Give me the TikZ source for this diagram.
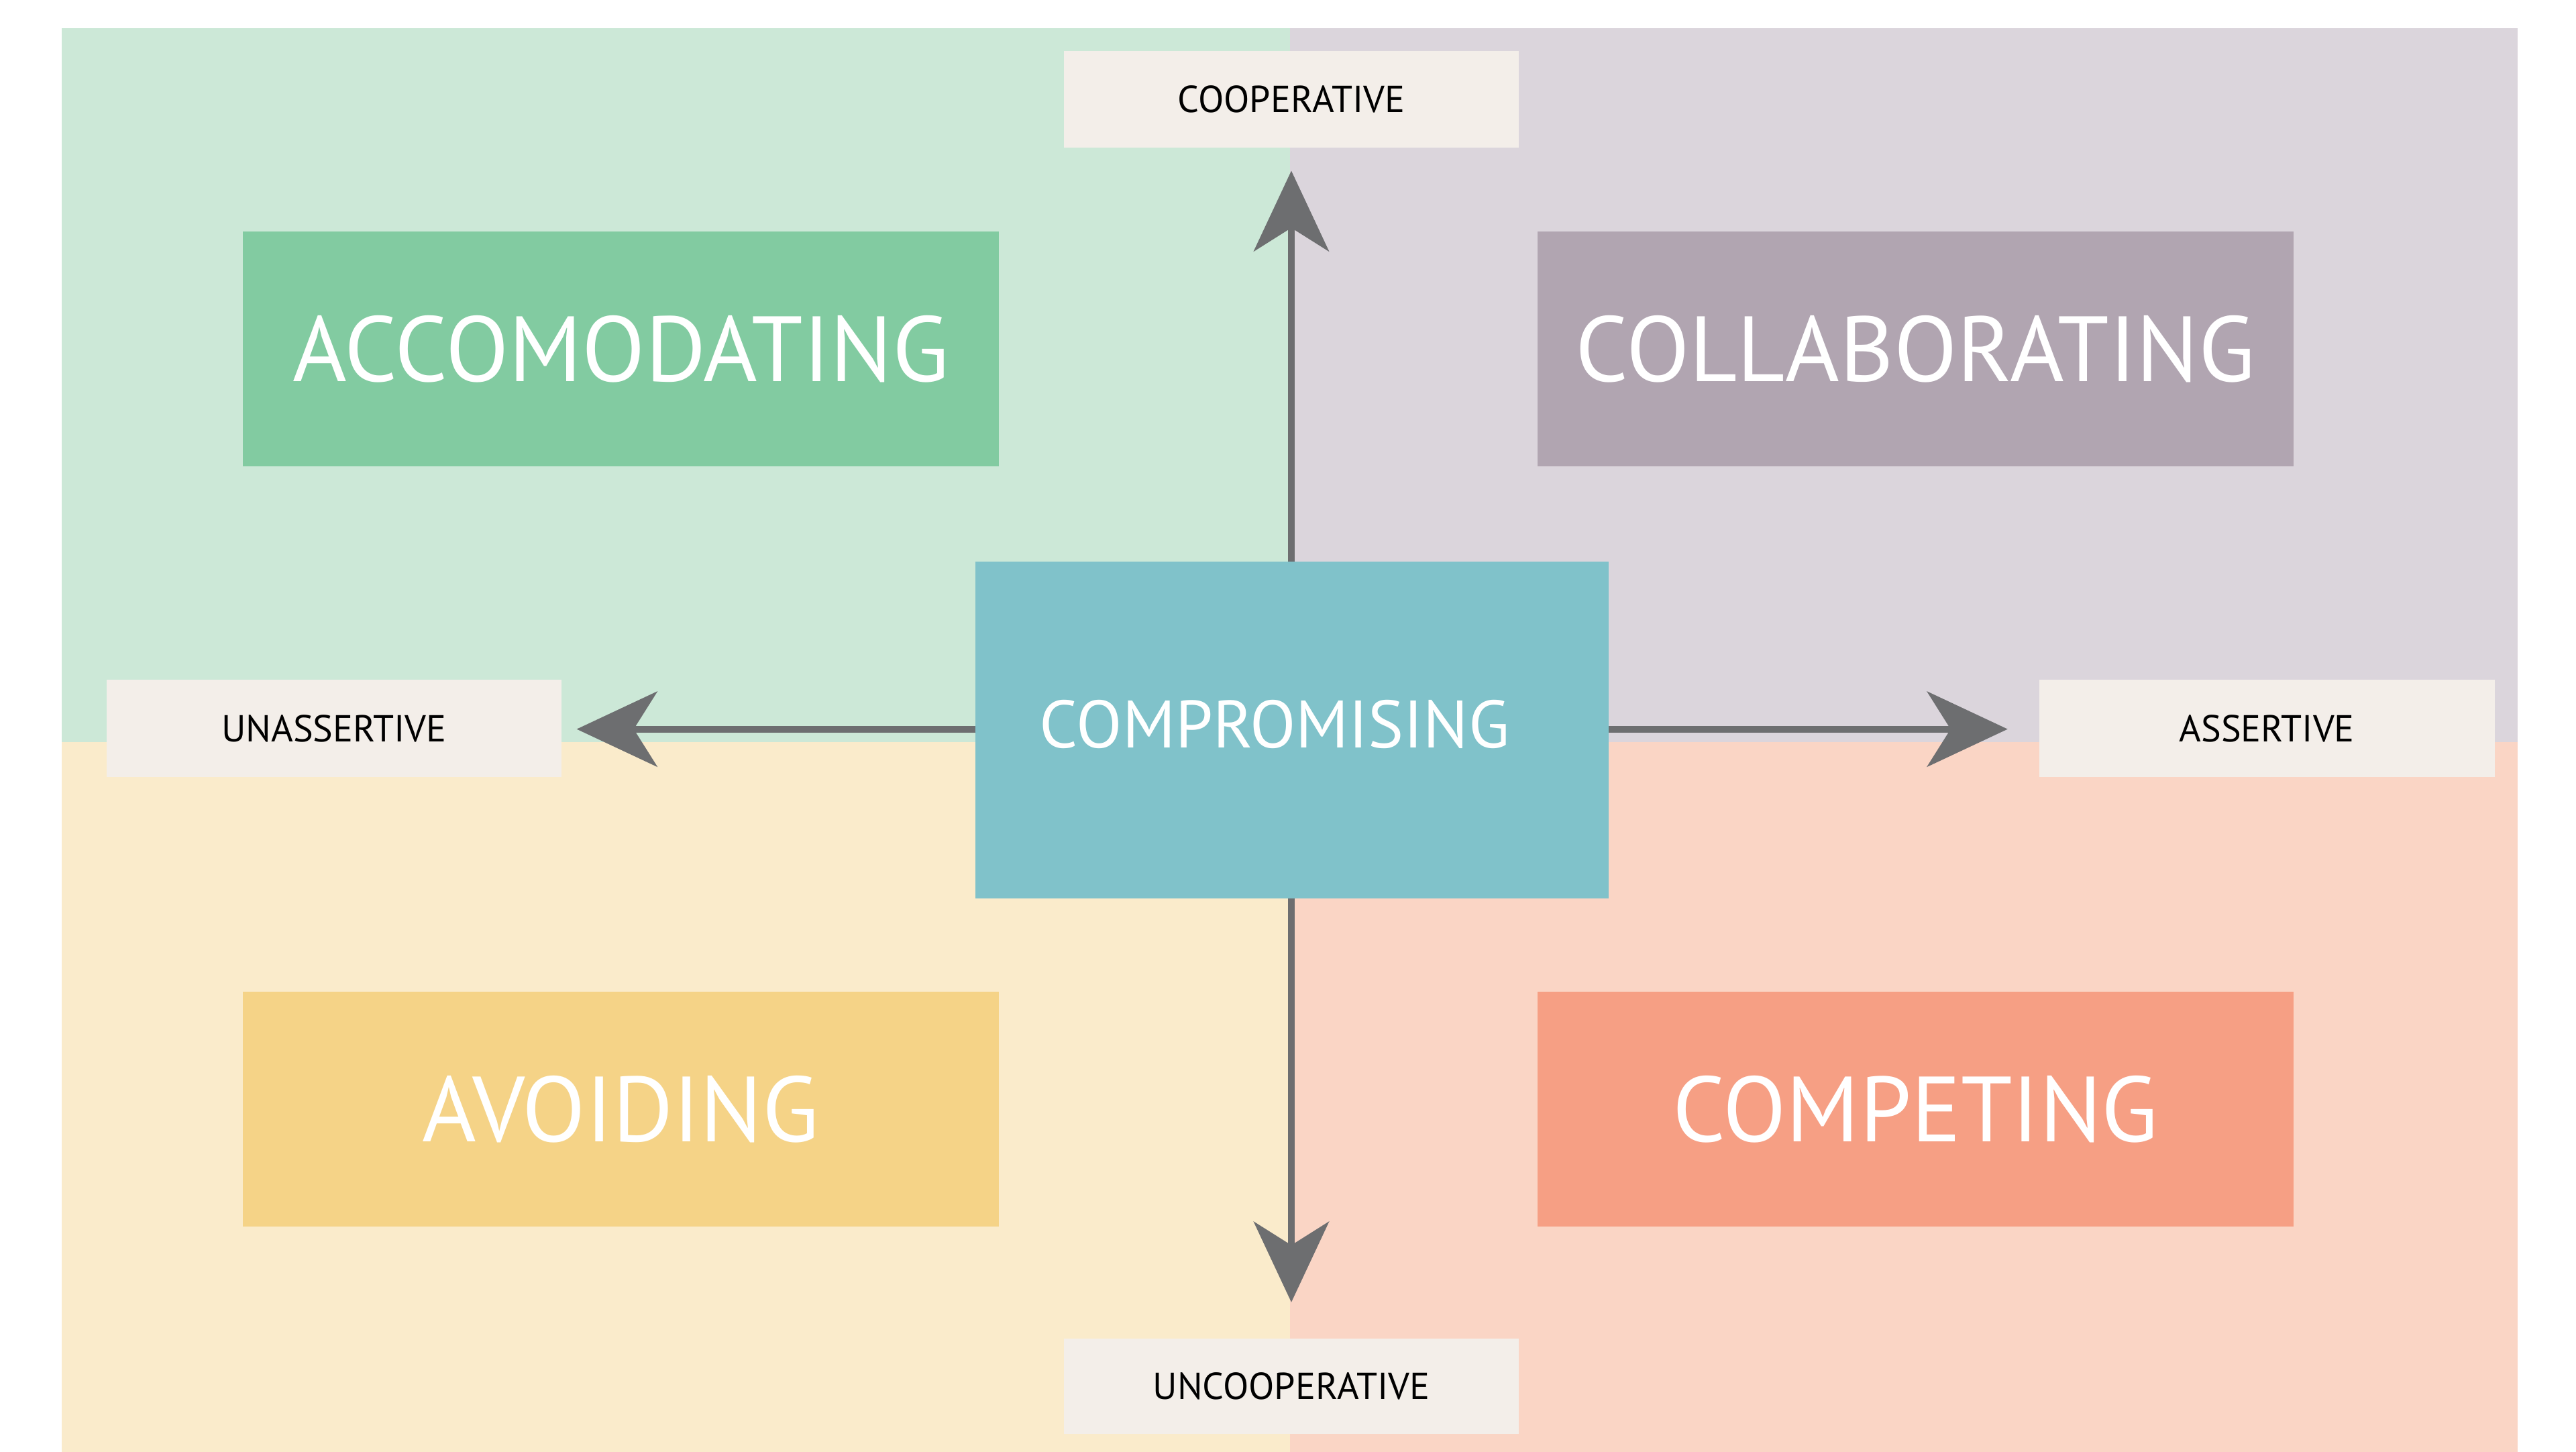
\documentclass[tikz,border=0pt]{standalone}
\usepackage{fontspec}
\setmainfont{PT Sans}
\usetikzlibrary{arrows.meta}
\definecolor{bgG}{HTML}{CCE8D7}
\definecolor{bgP}{HTML}{DBD5DC}
\definecolor{bgY}{HTML}{FAEBCB}
\definecolor{bgR}{HTML}{FAD5C5}
\definecolor{bxG}{HTML}{82CBA1}
\definecolor{bxP}{HTML}{B1A5B1}
\definecolor{bxY}{HTML}{F5D387}
\definecolor{bxR}{HTML}{F69F84}
\definecolor{bxT}{HTML}{80C2CA}
\definecolor{lab}{HTML}{F3EEE9}
\definecolor{arr}{HTML}{6D6E70}
\begin{document}
\begin{tikzpicture}[x=2.477pt,y=-2.447pt,
  big/.style={fill=#1,text=white,font=\fontsize{138}{140}\selectfont},
  lbl/.style={fill=lab,text=black,font=\fontsize{56}{60}\selectfont},
  ax/.style={draw=arr,line width=10pt,-{Stealth[length=120pt,width=112pt,inset=35pt]}}]
\useasboundingbox (0,0) rectangle (1550,884);
\fill[white] (0,0) rectangle (1550,884);
\fill[bgG] (37,17) rectangle (776,452);
\fill[bgP] (776,17) rectangle (1515,452);
\fill[bgY] (37,452) rectangle (776,884);
\fill[bgR] (776,452) rectangle (1515,884);
\fill[bxG] (146,141) rectangle (601,284);
\node[big=bxG,fill=none] (acc) at (373.5,212.5) {ACCOMODATING};
\fill[bxP] (925,141) rectangle (1380,284);
\node[big=bxP,fill=none] (col) at (1152.5,212.5) {COLLABORATING};
\fill[bxY] (146,604) rectangle (601,747);
\node[big=bxY,fill=none] (avo) at (373.5,675.5) {AVOIDING};
\fill[bxR] (925,604) rectangle (1380,747);
\node[big=bxR,fill=none] (com) at (1152.5,675.5) {COMPETING};
\coordinate (tU) at (777,104);
\coordinate (tD) at (777,793);
\coordinate (tL) at (347,444);
\coordinate (tR) at (1208,444);
\fill[lab] (640,31) rectangle (914,90);
\node[font=\fontsize{56}{60}\selectfont] (coop) at (777,60.5) {COOPERATIVE};
\fill[lab] (640,815) rectangle (914,873);
\node[font=\fontsize{56}{60}\selectfont] (uncoop) at (777,844) {UNCOOPERATIVE};
\fill[lab] (64,414) rectangle (338,473);
\node[font=\fontsize{56}{60}\selectfont] (unas) at (201,443.5) {UNASSERTIVE};
\fill[lab] (1227,414) rectangle (1501,473);
\node[font=\fontsize{56}{60}\selectfont] (as) at (1364,443.5) {ASSERTIVE};
\fill[bxT] (587,342) rectangle (968,547);
\coordinate (cT) at (777,342);
\coordinate (cB) at (777,547);
\coordinate (cL) at (587,444);
\coordinate (cR) at (968,444);
\draw[ax] (cT) -- (tU);
\draw[ax] (cB) -- (tD);
\draw[ax] (cL) -- (tL);
\draw[ax] (cR) -- (tR);
\node[text=white,font=\fontsize{100}{104}\selectfont] (cmp) at (767,441) {COMPROMISING};
\end{tikzpicture}
\end{document}
